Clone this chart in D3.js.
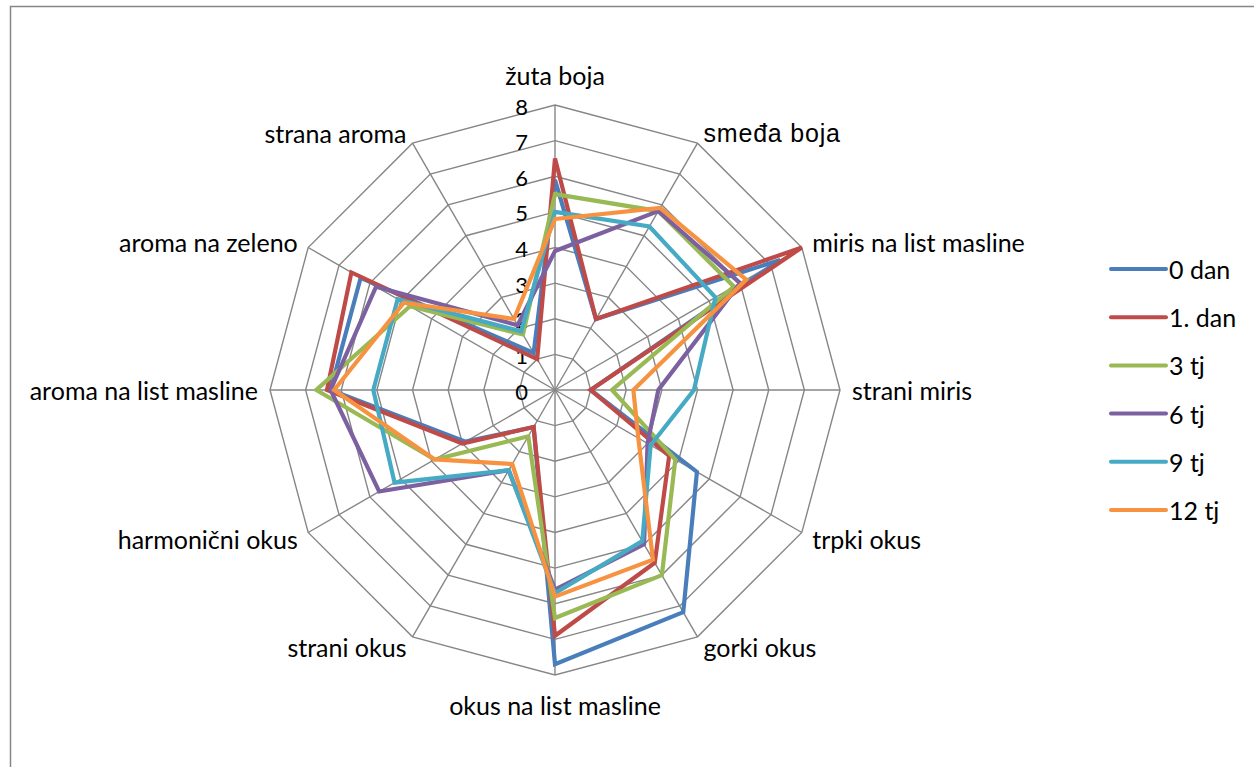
<!DOCTYPE html>
<html>
<head>
<meta charset="utf-8">
<script src="https://cdn.jsdelivr.net/npm/d3@7"></script>
<style>
  body { margin: 0; background: #fff; }
  svg { display: block; }
  text { font-family: Lato, "Open Sans", sans-serif; fill: #000; }
</style>
</head>
<body>
<svg class="radar" width="1254" height="767"></svg>
<script>
let categories = ["žuta boja", "smeđa boja", "miris na list masline", "strani miris", "trpki okus", "gorki okus",
  "okus na list masline", "strani okus", "harmonični okus", "aroma na list masline", "aroma na zeleno", "strana aroma"];

let seriesNames = ["0 dan", "1. dan", "3 tj", "6 tj", "9 tj", "12 tj"];
let seriesColors = ["#4A7EBB", "#BE4B48", "#98B954", "#7D60A0", "#46AAC5", "#F69240"];

let dan0 = [5.9, 2.3, 7.3, 1.0, 4.6, 7.2, 7.7, 1.2, 2.9, 6.3, 6.3, 1.2];
let dan1 = [6.5, 2.3, 8.0, 1.0, 3.7, 5.6, 6.9, 1.2, 3.0, 6.4, 6.6, 1.0];
let tj3 = [5.5, 5.8, 5.8, 1.6, 3.9, 6.0, 6.4, 1.5, 3.9, 6.7, 4.7, 1.8];
let tj6 = [3.9, 5.8, 6.0, 2.9, 3.0, 5.0, 5.6, 2.6, 5.7, 6.3, 5.8, 2.1];
let tj9 = [5.0, 5.3, 5.2, 3.9, 3.1, 4.9, 5.7, 2.6, 5.2, 5.1, 5.1, 1.9];
let tj12 = [4.8, 5.9, 6.2, 2.2, 2.7, 5.5, 5.8, 2.4, 3.9, 6.2, 4.9, 2.3];

let tickValues = [0, 1, 2, 3, 4, 5, 6, 7, 8];

let seriesValues = [dan0, dan1, tj3, tj6, tj9, tj12];

let cx = 555, cy = 390;

let svg = d3.select(".radar");

// chart frame (right and bottom edges run off the picture)
svg.append("rect")
  .attr("x", 10.5).attr("y", 6.5)
  .attr("width", 1400).attr("height", 900)
  .attr("fill", "none")
  .attr("stroke", "#868686")
  .attr("stroke-width", 1.5);

let r = d3.scaleLinear()
  .domain([0, 8])
  .range([0, 285]);

let angle = d3.scaleLinear()
  .domain([0, categories.length])
  .range([0, 2 * Math.PI]);

let g = svg.append("g")
  .attr("transform", `translate(${cx},${cy})`);

// web grid
let ring = d3.lineRadial()
  .angle((d, i) => angle(i))
  .radius(d => r(d))
  .curve(d3.curveLinearClosed);

g.append("g")
  .selectAll("path")
  .data(tickValues.filter(t => t > 0))
  .join("path")
  .attr("d", t => ring(categories.map(() => t)))
  .attr("fill", "none")
  .attr("stroke", "#868686")
  .attr("stroke-width", 1.4);

g.append("g")
  .selectAll("line")
  .data(categories)
  .join("line")
  .attr("x1", 0).attr("y1", 0)
  .attr("x2", (d, i) => Math.sin(angle(i)) * r(8))
  .attr("y2", (d, i) => -Math.cos(angle(i)) * r(8))
  .attr("stroke", "#868686")
  .attr("stroke-width", 1.4);

// scale numbers
g.append("g")
  .selectAll("text")
  .data(tickValues)
  .join("text")
  .attr("x", -27)
  .attr("y", t => -r(t) + 1)
  .attr("text-anchor", "end")
  .attr("dominant-baseline", "central")
  .attr("font-size", 22)
  .text(t => t);

// category labels
let labelR = r(8) + 12;
g.append("g")
  .selectAll("text")
  .data(categories)
  .join("text")
  .attr("x", (d, i) => Math.sin(angle(i)) * labelR)
  .attr("y", (d, i) => {
    let c = Math.cos(angle(i));
    let extra = Math.abs(Math.sin(angle(i))) < 0.01 ? 18 : 0;
    return -c * (labelR + extra);
  })
  .attr("text-anchor", (d, i) => {
    let s = Math.sin(angle(i));
    return Math.abs(s) < 0.01 ? "middle" : (s > 0 ? "start" : "end");
  })
  .attr("dominant-baseline", "central")
  .attr("font-size", 25)
  .attr("letter-spacing", d => d == "smeđa boja" ? 0.8 : null)
  .style("font-family", d => d == "smeđa boja" ? "'Liberation Sans', Arial, sans-serif" : null)
  .text(d => d);

// series
let radarLine = d3.lineRadial()
  .angle((d, i) => angle(i))
  .radius(d => r(d))
  .curve(d3.curveLinearClosed);

g.append("g")
  .selectAll("path")
  .data(seriesValues)
  .join("path")
  .attr("d", d => radarLine(d))
  .attr("fill", "none")
  .attr("stroke", (d, i) => seriesColors[i])
  .attr("stroke-width", 4.2)
  .attr("stroke-linejoin", "miter");

// legend
let legend = svg.append("g")
  .attr("transform", "translate(1111,269)");

let item = legend.selectAll("g")
  .data(seriesNames)
  .join("g")
  .attr("transform", (d, i) => `translate(0,${i * 48.2})`);

item.append("line")
  .attr("x1", 0).attr("x2", 55)
  .attr("stroke", (d, i) => seriesColors[i])
  .attr("stroke-width", 4)
  .attr("stroke-linecap", "round");

item.append("text")
  .attr("x", 58)
  .attr("dominant-baseline", "central")
  .attr("font-size", 25)
  .text(d => d);
</script>
</body>
</html>
